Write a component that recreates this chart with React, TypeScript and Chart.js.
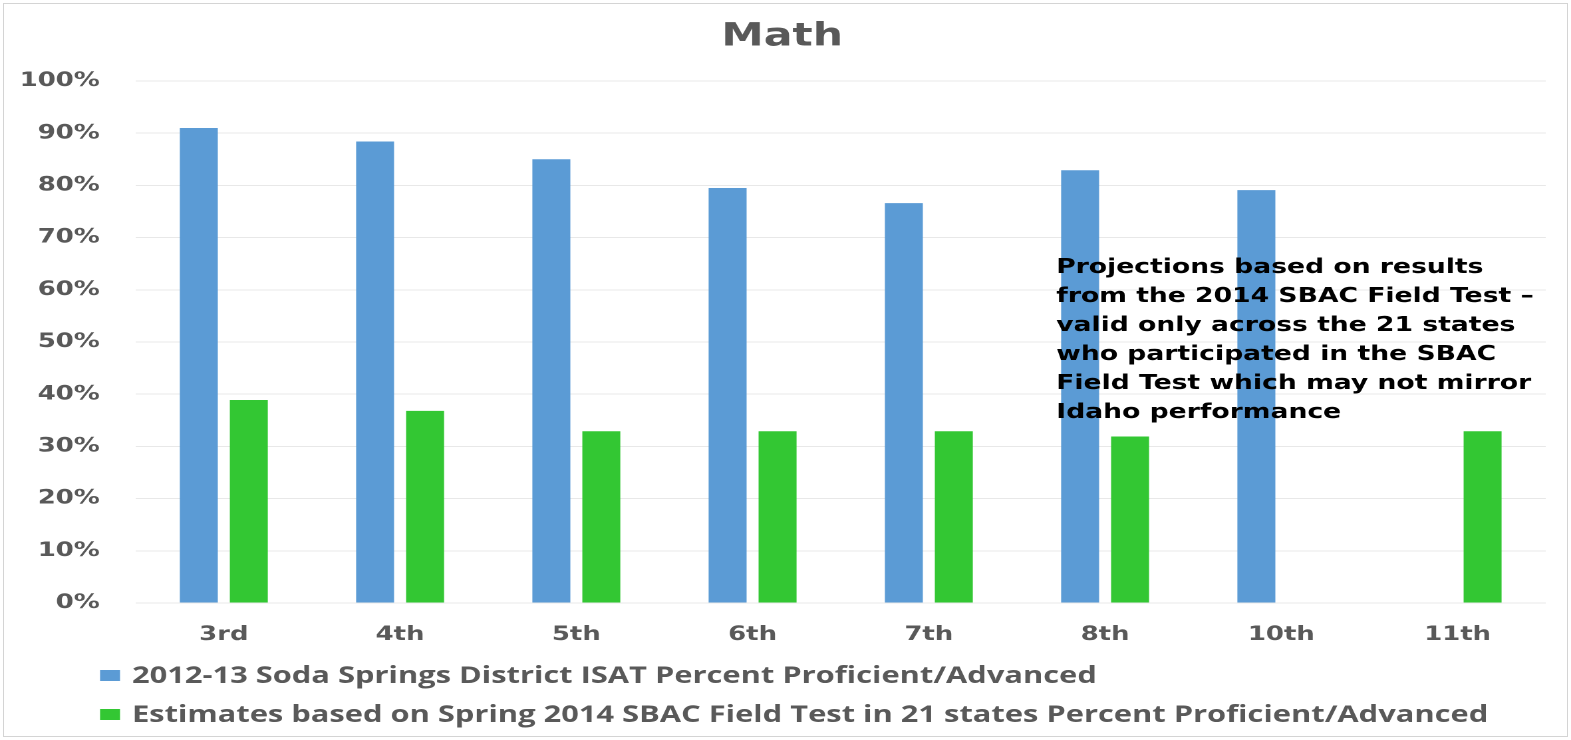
import React, { useEffect, useRef } from "react";
import { Chart, registerables } from "chart.js";

Chart.register(...registerables);

const categories = ["3rd", "4th", "5th", "6th", "7th", "8th", "10th", "11th"];
const isatValues: (number | null)[] = [91, 88.4, 85, 79.5, 76.6, 82.9, 79.1, null];
const sbacValues: (number | null)[] = [38.9, 36.8, 32.9, 32.9, 32.9, 31.9, null, 32.9];
const seriesLabels = [
  "2012-13 Soda Springs District ISAT Percent Proficient/Advanced",
  "Estimates based on Spring 2014 SBAC Field Test in 21 states Percent Proficient/Advanced",
];
const seriesColors = ["#5B9BD5", "#33C733"];
const titleText = "Math";
const yTickValues = [0, 10, 20, 30, 40, 50, 60, 70, 80, 90, 100];
const noteLines = [
  "Projections based on results",
  "from the 2014 SBAC Field Test \u2013",
  "valid only across the 21 states",
  "who participated in the SBAC",
  "Field Test which may not mirror",
  "Idaho performance",
];

// logical canvas size; the canvas is displayed stretched horizontally like the reference
const LOGICAL_W = 1181;
const LOGICAL_H = 740;

const overlayPlugin = {
  id: "overlay",
  afterDraw(chart: any) {
    const ctx = chart.ctx as CanvasRenderingContext2D;
    ctx.save();
    // legend
    ctx.font = "bold 23.2px 'Open Sans'";
    ctx.textBaseline = "middle";
    ctx.textAlign = "left";
    const rows = [675.5, 714.5];
    seriesLabels.forEach((lab, i) => {
      const y = rows[i];
      ctx.fillStyle = seriesColors[i];
      ctx.fillRect(75.2, y - 5.5, 15, 11);
      ctx.fillStyle = "#595959";
      ctx.fillText(lab, 99.2, y + 1);
    });
    // annotation
    ctx.font = "bold 20px 'DejaVu Sans'";
    ctx.fillStyle = "#000000";
    noteLines.forEach((ln, i) => {
      ctx.fillText(ln, 794, 268 + i * 29);
    });
    ctx.restore();
  },
};

export default function App() {
  const ref = useRef<HTMLCanvasElement | null>(null);
  useEffect(() => {
    const canvas = ref.current;
    if (!canvas) return;
    const chart = new Chart(canvas, {
      type: "bar",
      data: {
        labels: categories,
        datasets: [
          {
            label: seriesLabels[0],
            data: isatValues,
            backgroundColor: seriesColors[0],
            categoryPercentage: 0.567,
            barPercentage: 0.76,
          },
          {
            label: seriesLabels[1],
            data: sbacValues,
            backgroundColor: seriesColors[1],
            categoryPercentage: 0.567,
            barPercentage: 0.76,
          },
        ],
      },
      options: {
        responsive: false,
        devicePixelRatio: 2,
        animation: false,
        layout: { padding: { left: 14, right: 19, top: 0, bottom: 77 } },
        plugins: {
          legend: { display: false },
          tooltip: { enabled: false },
          title: {
            display: true,
            text: titleText,
            color: "#595959",
            font: { family: "'DejaVu Sans'", size: 32, weight: "bold" },
            padding: { top: 18, bottom: 24.6 },
          },
        },
        scales: {
          x: {
            grid: { display: false, drawTicks: false },
            border: { display: false },
            ticks: {
              color: "#595959",
              padding: 20,
              font: { family: "'DejaVu Sans'", size: 19.5, weight: "bold" },
            },
            afterFit: (s: any) => {
              s.height = 60;
            },
          },
          y: {
            min: 0,
            max: 100,
            afterBuildTicks: (s: any) => {
              s.ticks = yTickValues.map((v) => ({ value: v }));
            },
            grid: { color: "#e8e8e8", lineWidth: 1, drawTicks: false },
            border: { display: false },
            ticks: {
              color: "#595959",
              padding: 27,
              font: { family: "'DejaVu Sans'", size: 19.5, weight: "bold" },
              callback: (v: any) => `${v}%`,
            },
            afterFit: (s: any) => {
              s.width = 88;
            },
          },
        },
      },
      plugins: [overlayPlugin],
    });
    return () => chart.destroy();
  }, []);

  return (
    <div style={{ position: "fixed", left: 0, top: 0, width: 1571, height: 740, background: "#fff" }}>
      <canvas
        ref={ref}
        width={LOGICAL_W}
        height={LOGICAL_H}
        style={{ width: "1571px", height: "740px", display: "block" }}
      />
      <div
        style={{
          position: "absolute",
          left: 3,
          top: 3,
          width: 1565,
          height: 734,
          border: "1px solid #d4d4d4",
          boxSizing: "border-box",
          pointerEvents: "none",
        }}
      />
    </div>
  );
}
